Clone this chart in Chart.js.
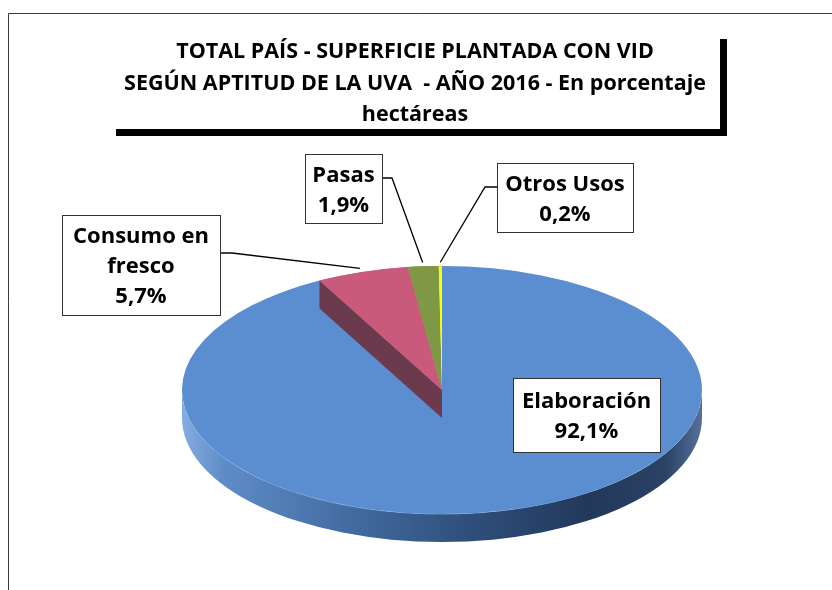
<!DOCTYPE html>
<html>
<head>
<meta charset="utf-8">
<script src="https://cdn.jsdelivr.net/npm/chart.js@4.4.1/dist/chart.umd.min.js"></script>
<style>
  html, body { margin: 0; padding: 0; background: #fff; }
  canvas { display: block; }
</style>
</head>
<body>
<canvas id="myChart" width="832" height="590"></canvas>
<script>
"use strict";

// chart data
const titleLines = [
    'TOTAL PAÍS - SUPERFICIE PLANTADA CON VID',
    'SEGÚN APTITUD DE LA UVA  - AÑO 2016 - En porcentaje',
    'hectáreas'
];
const categories = [['Elaboración'], ['Consumo en', 'fresco'], ['Pasas'], ['Otros Usos']];
const values = [92.1, 5.7, 1.9, 0.2];

// colours of the top faces and of the cut faces
const sliceColors = ['#5B8ED1', '#C95A7B', '#7E9846', '#FFFF00'];
const sideColors = ['#3D6699', '#6B3A4C', '#4E5F2B', '#9A9A00'];

// 3d look: vertical squash of the pie, its screen centre and the wall depth
const TILT = 0.477;
const CENTER_Y = 390;
const DEPTH = 28;

// callout boxes (box rect, where the leader line leaves the box and its elbow)
const calloutLayout = [
    { x: 513, y: 378, w: 147, h: 74 },
    { x: 62, y: 215, w: 158, h: 100, from: [220, 253], elbow: [232, 253] },
    { x: 305, y: 154, w: 77, h: 69, from: [382, 178], elbow: [392, 178] },
    { x: 497, y: 163, w: 136, h: 69, from: [497, 187], elbow: [485, 187] }
];

function formatPercent(v) {
    return v.toFixed(1).replace('.', ',') + '%';
}

// map an angle on the (flat) chart.js pie to the squashed screen ellipse
function rimPoint(el, angle, factor) {
    const r = el.outerRadius * factor;
    return [el.x + r * Math.cos(angle), CENTER_Y + r * TILT * Math.sin(angle)];
}

function applyTilt(ctx, el) {
    ctx.translate(el.x, CENTER_Y);
    ctx.scale(1, TILT);
    ctx.translate(-el.x, -el.y);
}

// draws the front wall of the pie for the visible part (0..PI) of each slice
function drawWalls(ctx, meta) {
    meta.data.forEach(function (el, i) {
        let s = el.startAngle, e = el.endAngle;
        [0, 2 * Math.PI].forEach(function (shift) {
            const a0 = Math.max(s, shift), a1 = Math.min(e, Math.PI + shift);
            if (a1 <= a0) return;
            const r = el.outerRadius;
            ctx.beginPath();
            ctx.ellipse(el.x, CENTER_Y, r, r * TILT, 0, a0, a1);
            ctx.ellipse(el.x, CENTER_Y + DEPTH, r, r * TILT, 0, a1, a0, true);
            ctx.closePath();
            if (i === 0) {
                const g = ctx.createLinearGradient(el.x - r, 0, el.x + r, 0);
                g.addColorStop(0, '#86ACE0');
                g.addColorStop(0.08, '#5F8CC8');
                g.addColorStop(0.35, '#3F689C');
                g.addColorStop(0.55, '#2F4F7B');
                g.addColorStop(0.78, '#22385A');
                g.addColorStop(0.93, '#2A4266');
                g.addColorStop(1, '#56709A');
                ctx.fillStyle = g;
            } else {
                ctx.fillStyle = sideColors[i];
            }
            ctx.fill();
            // light highlight along the rim
            ctx.beginPath();
            ctx.ellipse(el.x, CENTER_Y + 1, r - 1, r * TILT - 1, 0, a0 + 0.05, a1 - 0.05);
            ctx.strokeStyle = 'rgba(160,195,240,0.7)';
            ctx.lineWidth = 1;
            ctx.stroke();
        });
    });
}

// cut face of a slice along its start edge
function drawCutFace(ctx, el, color) {
    const p = rimPoint(el, el.startAngle, 1);
    ctx.beginPath();
    ctx.moveTo(el.x, CENTER_Y);
    ctx.lineTo(p[0], p[1]);
    ctx.lineTo(p[0], p[1] + DEPTH);
    ctx.lineTo(el.x, CENTER_Y + DEPTH);
    ctx.closePath();
    ctx.fillStyle = color;
    ctx.fill();
}

const pie3d = {
    id: 'pie3d',
    beforeDraw: function (chart) {
        const ctx = chart.ctx;
        ctx.save();
        // outer frame
        ctx.strokeStyle = '#3A3A3A';
        ctx.lineWidth = 1;
        ctx.beginPath();
        ctx.moveTo(8.5, 590);
        ctx.lineTo(8.5, 13.5);
        ctx.lineTo(832, 13.5);
        ctx.stroke();
        // title shadow
        ctx.fillStyle = '#000';
        ctx.fillRect(720, 39, 7, 97);
        ctx.fillRect(116, 129, 611, 7);
        // title
        ctx.font = 'bold 21.5px "Open Sans"';
        ctx.textAlign = 'center';
        ctx.textBaseline = 'alphabetic';
        titleLines.forEach(function (line, i) {
            ctx.fillText(line, 415, 58 + i * 31.5);
        });
        ctx.restore();
    },
    beforeDatasetsDraw: function (chart) {
        const ctx = chart.ctx;
        const meta = chart.getDatasetMeta(0);
        drawWalls(ctx, meta);
        ctx.save();
        applyTilt(ctx, meta.data[0]);
    },
    afterDatasetsDraw: function (chart) {
        const ctx = chart.ctx;
        const meta = chart.getDatasetMeta(0);
        ctx.restore();
        // the pink slice shows its left cut face over the big slice, then the small slices are redrawn on top
        drawCutFace(ctx, meta.data[1], sideColors[1]);
        ctx.save();
        applyTilt(ctx, meta.data[0]);
        for (let i = 1; i < meta.data.length; i++) {
            meta.data[i].draw(ctx);
        }
        ctx.restore();
    },
    afterDraw: function (chart) {
        const ctx = chart.ctx;
        const meta = chart.getDatasetMeta(0);
        ctx.save();
        calloutLayout.forEach(function (box, i) {
            const el = meta.data[i];
            if (box.from) {
                const mid = (el.startAngle + el.endAngle) / 2;
                const p = rimPoint(el, mid, 1.03);
                ctx.beginPath();
                ctx.moveTo(box.from[0], box.from[1]);
                ctx.lineTo(box.elbow[0], box.elbow[1]);
                ctx.lineTo(p[0], p[1]);
                ctx.strokeStyle = '#000';
                ctx.lineWidth = 1.3;
                ctx.stroke();
            }
            ctx.fillStyle = '#fff';
            ctx.fillRect(box.x, box.y, box.w, box.h);
            ctx.strokeStyle = '#333';
            ctx.lineWidth = 1;
            ctx.strokeRect(box.x + 0.5, box.y + 0.5, box.w, box.h);

            const lines = categories[i].concat([formatPercent(values[i])]);
            const lh = 30;
            const first = box.y + box.h / 2 - (lines.length - 1) * lh / 2 + 8;
            ctx.fillStyle = '#000';
            ctx.font = 'bold 22px "Open Sans"';
            ctx.textAlign = 'center';
            lines.forEach(function (t, k) {
                ctx.fillText(t, box.x + box.w / 2, first + k * lh);
            });
        });
        ctx.restore();
    }
};

const ctx = document.getElementById('myChart');
const myChart = new Chart(ctx, {
    type: 'pie',
    data: {
        labels: categories,
        datasets: [
            {
                data: values,
                backgroundColor: sliceColors,
                borderWidth: 0
            }
        ]
    },
    options: {
        responsive: false,
        animation: false,
        layout: {
            padding: { left: 182, right: 130, top: 34, bottom: 34 }
        },
        plugins: {
            legend: { display: false },
            tooltip: { enabled: false },
            title: { display: false }
        }
    },
    plugins: [pie3d]
});
</script>
</body>
</html>
